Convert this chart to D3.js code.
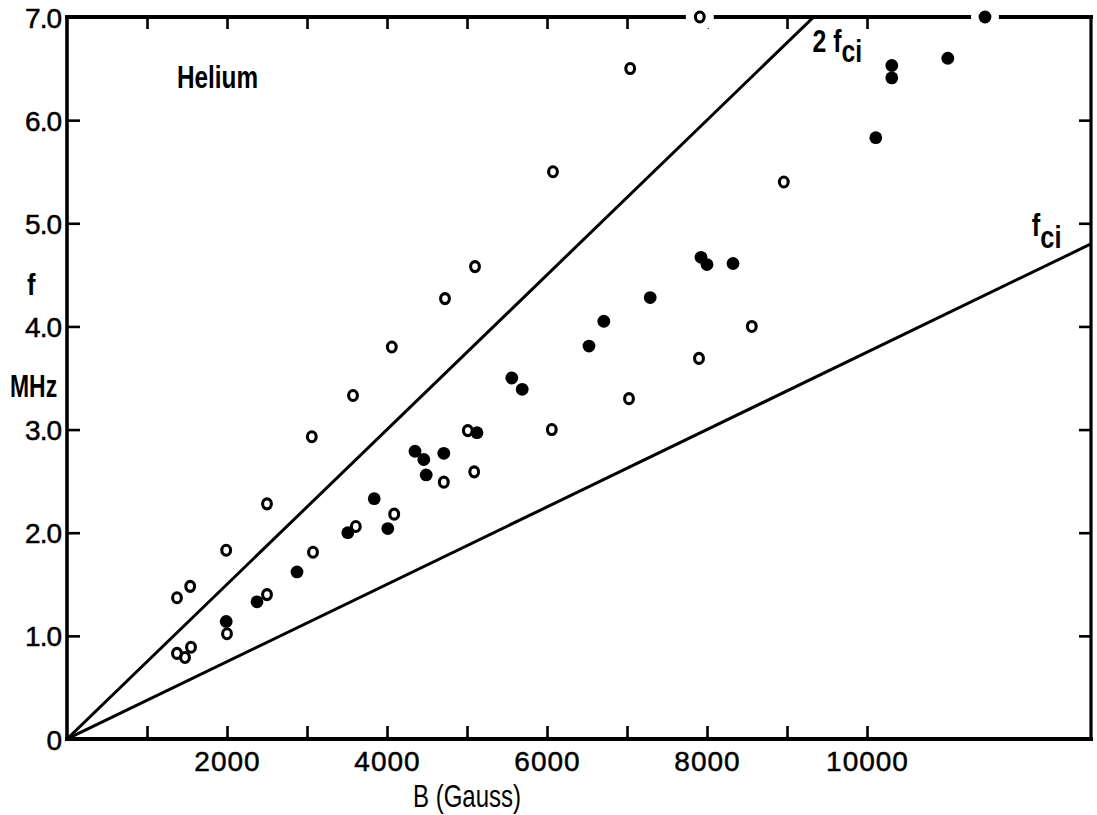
<!DOCTYPE html>
<html>
<head>
<meta charset="utf-8">
<script src="https://cdn.jsdelivr.net/npm/d3@7/dist/d3.min.js"></script>
<style>
  html, body { margin: 0; padding: 0; background: #fff; }
  svg { display: block; }
  .num { font-family: "Liberation Sans", Arial, sans-serif; font-size: 28px; fill: #000; stroke: #000; stroke-width: 0.5px; }
  .lbl { font-family: "Liberation Sans", Arial, sans-serif; fill: #000; }
</style>
</head>
<body>
<svg id="chart" width="1097" height="815"></svg>
<script>
// Helium: wave frequency f (MHz) vs magnetic field B (Gauss)

// open circles
const openB = [1375, 1540, 1375, 1475, 1550, 1990, 2000, 2500, 2500, 3060, 3075, 3610, 3575, 4060,
               4090, 4710, 4725, 5010, 5090, 5100, 6060, 6075, 7025, 7040, 7900, 7910, 8560, 8960];
const openF = [1.37, 1.48, 0.83, 0.79, 0.89, 1.83, 1.02, 1.40, 2.28, 2.93, 1.81, 2.06, 3.33, 3.80,
               2.18, 2.49, 4.27, 2.99, 2.59, 4.58, 3.00, 5.50, 3.30, 6.50, 3.69, 7.00, 4.00, 5.40];

// filled circles
const filledB = [1990, 2375, 2875, 3510, 3840, 4010, 4350, 4460, 4490, 4710, 5125, 5560, 5690,
                 6525, 6710, 7290, 7925, 8000, 8325, 10110, 10310, 10310, 11010, 11475];
const filledF = [1.14, 1.33, 1.62, 2.00, 2.33, 2.04, 2.79, 2.71, 2.56, 2.77, 2.97, 3.50, 3.39,
                 3.81, 4.05, 4.28, 4.67, 4.60, 4.61, 5.83, 6.53, 6.41, 6.60, 7.00];

// ion cyclotron frequency of He+, MHz per Gauss
const fciPerGauss = 0.000375;
const harmonics = [1, 2];

// axis ticks
const xTicks = [1000, 2000, 3000, 4000, 5000, 6000, 7000, 8000, 9000, 10000];
const xLabelled = [2000, 4000, 6000, 8000, 10000];
const yTicks = [0, 1, 2, 3, 4, 5, 6, 7];
const yRightTicks = [1, 2, 3, 4, 5, 6];
const xMax = 12800, yMax = 7;

const W = 1097, H = 815;
const margin = { left: 67, top: 17, right: 6, bottom: 76 };

const svg = d3.select("#chart");
const x = d3.scaleLinear().domain([0, xMax]).range([margin.left, W - margin.right]);
const y = d3.scaleLinear().domain([0, yMax]).range([H - margin.bottom, margin.top]);

svg.append("defs").append("clipPath").attr("id", "plot")
  .append("rect")
  .attr("x", x(0)).attr("y", y(yMax))
  .attr("width", x(xMax) - x(0)).attr("height", y(0) - y(yMax));

// ticks (inward) on all four sides
const gBottom = svg.append("g").attr("transform", `translate(0,${y(0)})`)
  .call(d3.axisBottom(x).tickValues(xTicks).tickSizeInner(-13).tickSizeOuter(0).tickPadding(5)
        .tickFormat(d => xLabelled.includes(d) ? String(d) : ""));
const gTop = svg.append("g").attr("transform", `translate(0,${y(yMax)})`)
  .call(d3.axisTop(x).tickValues(xTicks).tickSizeInner(-12).tickSizeOuter(0).tickFormat(""));
const gLeft = svg.append("g").attr("transform", `translate(${x(0)},0)`)
  .call(d3.axisLeft(y).tickValues(yTicks).tickSizeInner(-13).tickSizeOuter(0).tickPadding(6)
        .tickFormat(d => d === 0 ? "0" : d3.format(".1f")(d)));
const gRight = svg.append("g").attr("transform", `translate(${x(xMax)},0)`)
  .call(d3.axisRight(y).tickValues(yRightTicks).tickSizeInner(-12).tickSizeOuter(0).tickFormat(""));

[gBottom, gTop, gLeft, gRight].forEach(g => {
  g.select(".domain").remove();
  g.selectAll(".tick line").attr("stroke", "#000").attr("stroke-width", 2.6);
  g.selectAll(".tick text").attr("class", "num").attr("font-size", null).attr("font-family", null);
});
gBottom.selectAll(".tick text").attr("dy", "0.95em").attr("letter-spacing", 1);
gLeft.selectAll(".tick text").attr("dy", "0.36em").attr("letter-spacing", -1);

// frame
const frame = svg.append("g").attr("stroke", "#000").attr("stroke-linecap", "square").attr("fill", "none");
frame.append("line").attr("x1", x(0)).attr("x2", x(xMax)).attr("y1", y(yMax)).attr("y2", y(yMax)).attr("stroke-width", 4);
frame.append("line").attr("x1", x(0)).attr("x2", x(xMax)).attr("y1", y(0)).attr("y2", y(0)).attr("stroke-width", 4);
frame.append("line").attr("x1", x(0)).attr("x2", x(0)).attr("y1", y(0)).attr("y2", y(yMax)).attr("stroke-width", 3.6);
frame.append("line").attr("x1", x(xMax)).attr("x2", x(xMax)).attr("y1", y(0)).attr("y2", y(yMax)).attr("stroke-width", 3.2);

// f = n * fci lines
svg.append("g").attr("clip-path", "url(#plot)")
  .selectAll("line").data(harmonics).join("line")
  .attr("x1", x(0)).attr("y1", y(0))
  .attr("x2", x(xMax)).attr("y2", n => y(n * fciPerGauss * xMax))
  .attr("stroke", "#000").attr("stroke-width", 3);

// data
const openPts = openB.map((b, i) => ({ b, f: openF[i] }));
const filledPts = filledB.map((b, i) => ({ b, f: filledF[i] }));

// points sitting on the top border break the frame line
svg.append("g").selectAll("circle")
  .data(openPts.concat(filledPts).filter(d => d.f >= yMax)).join("circle")
  .attr("cx", d => x(d.b)).attr("cy", d => y(d.f)).attr("r", 14).attr("fill", "#fff");

svg.append("g").selectAll("circle").data(filledPts).join("circle")
  .attr("cx", d => x(d.b)).attr("cy", d => y(d.f)).attr("r", 6.4).attr("fill", "#000");

svg.append("g").selectAll("ellipse").data(openPts).join("ellipse")
  .attr("cx", d => x(d.b)).attr("cy", d => y(d.f)).attr("rx", 4.4).attr("ry", 5.0)
  .attr("fill", "none").attr("stroke", "#000").attr("stroke-width", 3.1);

// condensed lettering: horizontally squeezed text
function label(px, py, size, bold, sx, anchor) {
  return svg.append("g").attr("transform", `translate(${px},${py}) scale(${sx},1)`)
    .append("text").attr("class", "lbl")
    .attr("font-size", size).attr("font-weight", bold ? "bold" : "normal")
    .attr("text-anchor", anchor || "start");
}

label(x(1375), y(6.31), 32, true, 0.76).text("Helium");
label(27, 295, 30, true, 0.85).text("f");
label(10, 397, 31, true, 0.74).text("MHz");
label(x(5000), 807, 32, false, 0.75, "middle").text("B (Gauss)");

const t2 = label(x(9320), y(6.66), 31, true, 0.8);
t2.append("tspan").text("2 f");
t2.append("tspan").attr("dy", 10).text("ci");

const t1 = label(x(12060), y(4.88), 31, true, 0.82);
t1.append("tspan").text("f");
t1.append("tspan").attr("dy", 12).text("ci");
</script>
</body>
</html>
